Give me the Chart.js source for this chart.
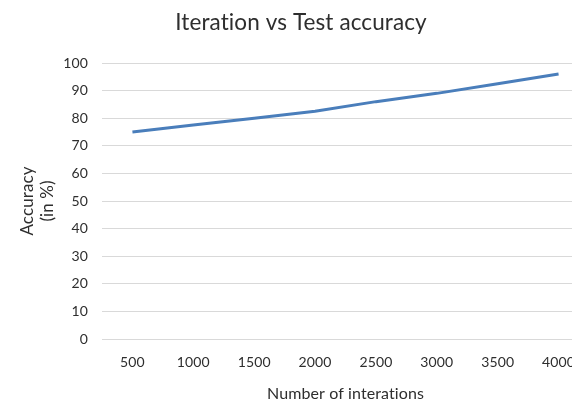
<!DOCTYPE html>
<html>
<head>
<meta charset="utf-8">
<script src="https://cdn.jsdelivr.net/npm/chart.js@4"></script>
<style>
  html, body { margin: 0; padding: 0; background: #fff; overflow: hidden; }
  #wrap { width: 602px; height: 404px; }
</style>
</head>
<body>
<div id="wrap"><canvas id="myChart" width="602" height="404"></canvas></div>
<script>
  // data
  const iterations = ['500', '1000', '1500', '2000', '2500', '3000', '3500', '4000'];
  const accuracy = [75, 77.5, 80, 82.5, 86, 89, 92.5, 96];
  const yMin = 0;
  const yMax = 100;
  const yStep = 10;

  const textColor = '#2e2e2e';
  const gridColor = '#d9d9d9';

  // keep "ti" from turning into a ligature
  const noLigatures = {
    id: 'noLigatures',
    beforeDraw: function (chart) { chart.ctx.letterSpacing = '0.1px'; }
  };

  const ctx = document.getElementById('myChart').getContext('2d');
  const myChart = new Chart(ctx, {
    type: 'line',
    data: {
      labels: iterations,
      datasets: [{
        label: 'Test accuracy',
        data: accuracy,
        borderColor: '#4a7ebb',
        borderWidth: 3,
        pointRadius: 0,
        tension: 0,
        fill: false
      }]
    },
    plugins: [noLigatures],
    options: {
      responsive: false,
      animation: false,
      layout: { padding: { left: 13, right: 13, top: 0, bottom: 0 } },
      plugins: {
        legend: { display: false },
        tooltip: { enabled: false },
        title: {
          display: true,
          text: 'Iteration vs Test accuracy',
          color: textColor,
          font: { family: 'Lato', size: 22.5, weight: 'normal' },
          padding: { top: 9, bottom: 27 }
        }
      },
      scales: {
        x: {
          offset: true,
          grid: { display: false, drawTicks: false },
          border: { display: true, color: gridColor, width: 1 },
          ticks: {
            color: textColor,
            font: { family: 'Lato', size: 14 },
            padding: 15,
            maxRotation: 0,
            autoSkip: false
          },
          title: {
            display: true,
            text: 'Number of interations',
            color: textColor,
            font: { family: 'Lato', size: 16 },
            padding: { top: 0, bottom: 1 }
          },
          afterFit: function (scale) { scale.height = 65; }
        },
        y: {
          min: yMin,
          max: yMax,
          grid: { color: gridColor, lineWidth: 1, drawTicks: false },
          border: { display: false },
          ticks: {
            stepSize: yStep,
            color: textColor,
            font: { family: 'Lato', size: 14 },
            padding: 14
          },
          title: {
            display: true,
            text: ['Accuracy', '(in %)'],
            color: textColor,
            font: { family: 'Lato', size: 17, lineHeight: 1.2 },
            padding: { top: 4, bottom: 0 }
          },
          afterFit: function (scale) { scale.width = 89; }
        }
      }
    }
  });
</script>
</body>
</html>
